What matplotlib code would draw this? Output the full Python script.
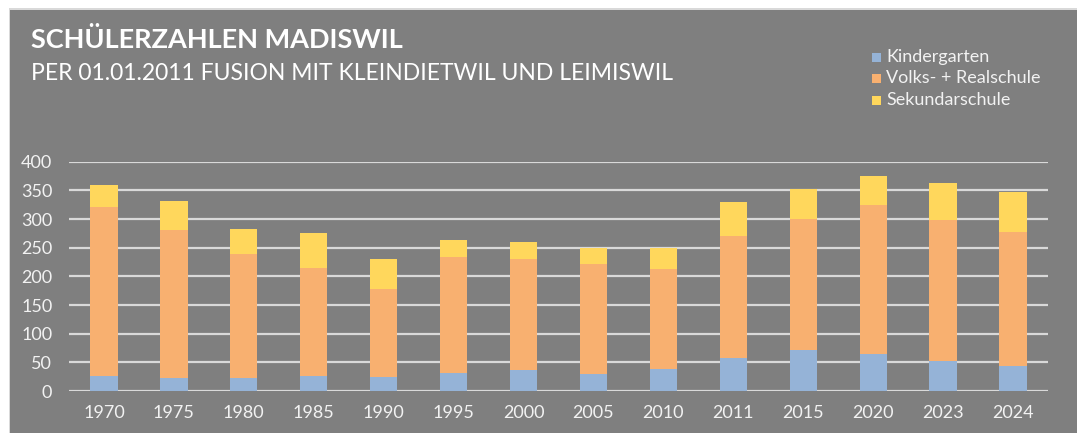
import matplotlib
matplotlib.use("Agg")
import matplotlib.pyplot as plt
from matplotlib.patches import Rectangle
import numpy as np

# data
years = ["1970", "1975", "1980", "1985", "1990", "1995", "2000",
         "2005", "2010", "2011", "2015", "2020", "2023", "2024"]
kindergarten = [26, 22, 23, 26, 25, 32, 36, 30, 39, 58, 72, 64, 53, 43]
volks_real = [295, 259, 216, 189, 153, 201, 195, 192, 173, 213, 228, 261, 246, 235]
sekundar = [39, 51, 44, 61, 52, 31, 29, 28, 38, 59, 53, 50, 63, 70]
series_names = ["Kindergarten", "Volks- + Realschule", "Sekundarschule"]
colors = ["#95b3d7", "#f8b070", "#ffd75c"]

plt.rcParams['font.family'] = ['Lato', 'DejaVu Sans']

W, H = 1077, 433
fig = plt.figure(figsize=(W / 100, H / 100), dpi=100)
fig.patch.set_facecolor("white")

# grey chart area with thin light border at the top/left
fig.patches.append(Rectangle((9 / W, 0), 1, 1 - 8 / H, transform=fig.transFigure,
                             facecolor="#d9d9d9", edgecolor="none", zorder=-2))
fig.patches.append(Rectangle((10 / W, 0), 1, 1 - 10 / H, transform=fig.transFigure,
                             facecolor="#7f7f7f", edgecolor="none", zorder=-1))

ax = fig.add_axes([69 / W, 1 - 391 / H, (1048 - 69) / W, (391 - 161.7) / H])
ax.set_facecolor("none")
ax.set_zorder(2)

x = np.arange(len(years))
bw = 0.39
k = np.array(kindergarten)
v = np.array(volks_real)
s = np.array(sekundar)
ax.bar(x, k, bw, color=colors[0], zorder=3)
ax.bar(x, v, bw, bottom=k, color=colors[1], zorder=3)
ax.bar(x, s, bw, bottom=k + v, color=colors[2], zorder=3)

ax.set_xlim(-0.5, len(years) - 0.5)
ax.set_ylim(0, 400)
ax.set_yticks(range(0, 401, 50))
ax.set_xticks(x)
ax.set_xticklabels(years)
ax.yaxis.grid(True, color="#d9d9d9", linewidth=1.6, zorder=1)
ax.set_axisbelow(True)
for sp in ax.spines.values():
    sp.set_visible(False)
ax.tick_params(axis="both", length=0, colors="#f2f2f2", labelsize=13)
ax.tick_params(axis="y", pad=12)
ax.tick_params(axis="x", pad=10)

# titles
fig.text(31 / W, 1 - 40 / H, "SCHÜLERZAHLEN MADISWIL", color="white",
         fontsize=19.5, fontweight="bold", va="center", ha="left")
fig.text(31 / W, 1 - 74 / H, "PER 01.01.2011 FUSION MIT KLEINDIETWIL UND LEIMISWIL",
         color="white", fontsize=16.5, va="center", ha="left")

# legend
leg_y = [57, 78, 100]
for name, c, yy in zip(series_names, colors, leg_y):
    fig.patches.append(Rectangle((872 / W, 1 - (yy + 5) / H), 9 / W, 9 / H,
                                 transform=fig.transFigure, facecolor=c,
                                 edgecolor="none"))
    fig.text(886 / W, 1 - yy / H, name, color="#f2f2f2", fontsize=13,
             va="center", ha="left")

fig.savefig("out.png", dpi=100, facecolor=fig.get_facecolor())
